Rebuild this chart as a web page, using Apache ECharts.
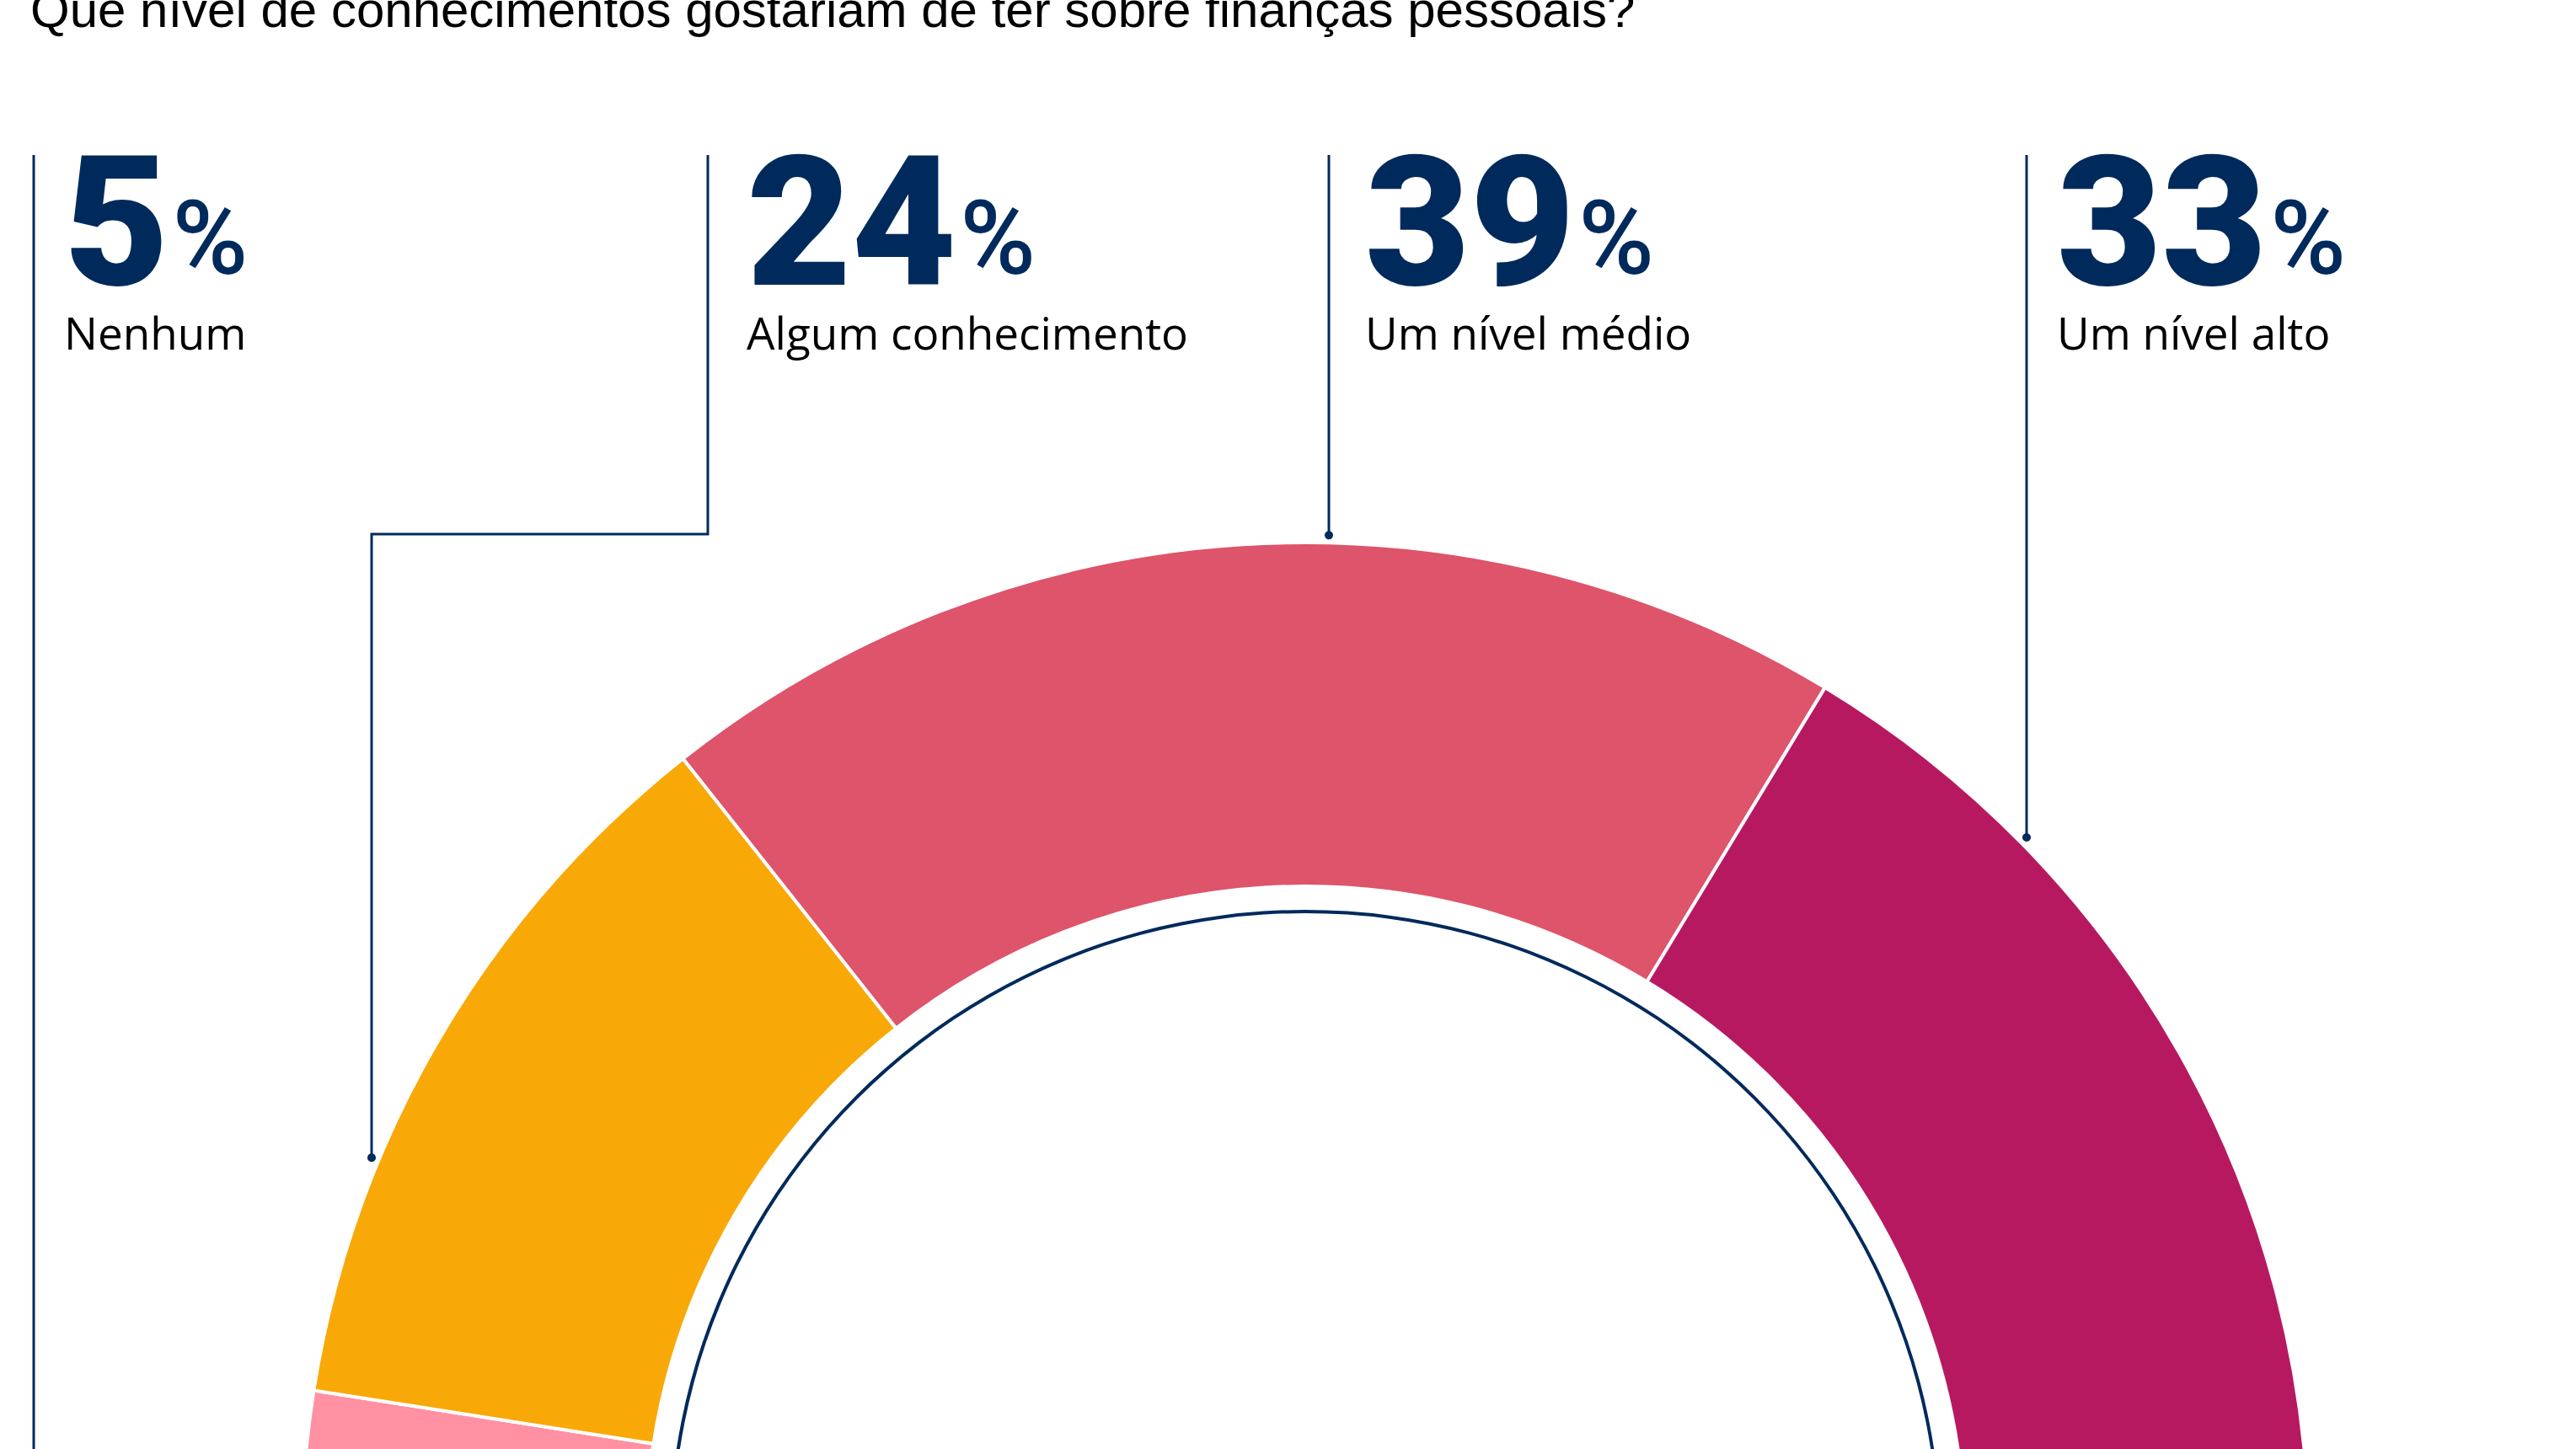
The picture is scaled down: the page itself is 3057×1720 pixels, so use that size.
<!DOCTYPE html>
<html lang="pt">
<head>
    <meta charset="UTF-8">
    <title>Conhecimentos sobre finanças pessoais</title>
    <style>
        html,body{
            padding: 0;
            margin: 0;
            width: 100%;
            height: 100%;
            background: #fff;
        }
        .chart{
            width: 3057px;
            height: 1720px;
        }
    </style>
    <script src="https://cdn.jsdelivr.net/npm/echarts@6/dist/echarts.min.js"></script>
</head>
<body>
<div class="chart"></div>
<script>
    // dados
    const categories = ['Nenhum', 'Algum conhecimento', 'Um nível médio', 'Um nível alto'];
    const shares = [5, 24, 39, 33];
    const colors = ['#ff91a3', '#f8a908', '#de546a', '#b71960'];
    const titleText = 'Que nível de conhecimentos gostariam de ter sobre finanças pessoais?';

    // layout (pixels)
    const W = 3057, H = 1720;
    const CX = 1549, CY = 1835;
    const R_IN = 783, R_OUT = 1191, R_DOT = 1200, R_RING = 753;
    const LINE_TOP = 184;
    const colX = [40, 840, 1577, 2405];
    const labelX = [76, 886, 1620, 2441];
    const elbows = [null, [441, 634], null, null];
    const navy = '#002a5c';

    // leader line: from the ring up to the top of the label
    function leader(i) {
        let x = elbows[i] ? elbows[i][0] : colX[i];
        let dx = x - CX;
        let endY = Math.abs(dx) < R_DOT ? CY - Math.sqrt(R_DOT * R_DOT - dx * dx) : H + 20;
        let pts = [[x, endY]];
        if (elbows[i]) {
            pts.push([elbows[i][0], elbows[i][1]], [colX[i], elbows[i][1]]);
        }
        pts.push([colX[i], LINE_TOP]);
        return pts;
    }

    let dots = [];
    categories.forEach((c, i) => {
        let p = leader(i)[0];
        if (p[1] < H) {
            dots.push({
                type: 'circle',
                shape: {cx: p[0], cy: p[1], r: 5},
                style: {fill: navy},
                silent: true,
                z: 20
            });
        }
    });

    let chart = echarts.init(document.querySelector('.chart'), null, {renderer: 'svg'});

    let option = {
        backgroundColor: '#fff',
        animation: false,
        title: {
            text: titleText,
            left: 36,
            top: -19,
            padding: 0,
            textStyle: {
                fontFamily: 'Liberation Sans',
                fontSize: 60,
                fontWeight: 'normal',
                color: '#000'
            }
        },
        graphic: dots,
        series: [
            {
                type: 'pie',
                center: [CX, CY],
                radius: [R_IN, R_OUT],
                startAngle: 180,
                endAngle: 0,
                clockwise: true,
                silent: true,
                avoidLabelOverlap: false,
                itemStyle: {
                    borderColor: '#fff',
                    borderWidth: 4
                },
                label: {
                    show: true,
                    position: 'outside',
                    formatter: p => `{num|${p.value}}{pct|%}\n{name|${p.name}}`,
                    rich: {
                        num: {
                            fontFamily: 'Roboto',
                            fontWeight: 900,
                            fontSize: 215,
                            lineHeight: 160,
                            color: navy,
                            align: 'left'
                        },
                        pct: {
                            fontFamily: 'Roboto',
                            fontWeight: 500,
                            fontSize: 122,
                            lineHeight: 96,
                            verticalAlign: 'bottom',
                            color: navy,
                            align: 'left',
                            padding: [0, 0, 0, 4]
                        },
                        name: {
                            fontFamily: 'Open Sans',
                            fontSize: 53,
                            lineHeight: 101,
                            color: '#000',
                            align: 'left'
                        }
                    }
                },
                labelLine: {
                    show: true,
                    lineStyle: {color: navy, width: 3}
                },
                labelLayout: params => ({
                    x: labelX[params.dataIndex],
                    y: LINE_TOP,
                    align: 'left',
                    verticalAlign: 'top',
                    labelLinePoints: leader(params.dataIndex)
                }),
                data: categories.map((c, i) => ({
                    name: c,
                    value: shares[i],
                    itemStyle: {color: colors[i]}
                }))
            },
            {
                type: 'pie',
                center: [CX, CY],
                radius: [R_RING - 2, R_RING + 2],
                silent: true,
                label: {show: false},
                labelLine: {show: false},
                itemStyle: {color: navy},
                data: [{value: 1, name: ''}]
            }
        ]
    };

    chart.setOption(option);
</script>
</body>
</html>
